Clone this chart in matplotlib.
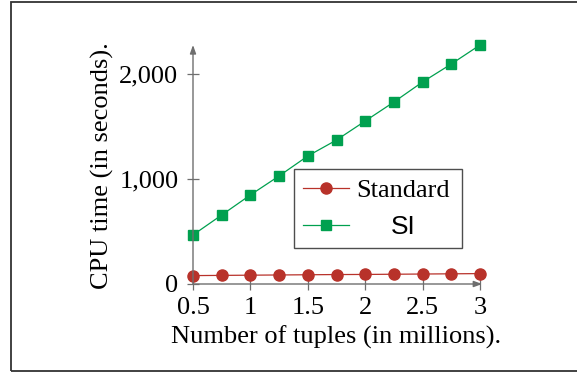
import matplotlib.pyplot as plt
from matplotlib.patches import Rectangle
from matplotlib.ticker import FuncFormatter

# Tuples (millions) and CPU time (s)
tuples = [0.5, 0.75, 1.0, 1.25, 1.5, 1.75, 2.0, 2.25, 2.5, 2.75, 3.0]
standard = [80, 82, 84, 86, 88, 90, 91, 93, 95, 97, 99]
si = [467, 657, 848, 1029, 1219, 1371, 1552, 1733, 1924, 2095, 2276]

xticks = [0.5, 1, 1.5, 2, 2.5, 3]
yticks = [0, 1000, 2000]

red = "#b8322a"
green = "#00a04f"
axis_gray = "#6e6e6e"

plt.rcParams["font.family"] = ["Liberation Serif", "DejaVu Serif"]

fig = plt.figure(figsize=(5.77, 3.74), dpi=100)
ax = fig.add_axes([193 / 577, 1 - 284 / 374, 287 / 577, 239 / 374])

# outer frame (right edge runs off the picture)
fig.patches.append(Rectangle((11 / 577, 1 - 371 / 374), 1.2, (369.5) / 374,
                             transform=fig.transFigure, fill=False,
                             edgecolor="#333333", linewidth=1.3))

ax.plot(tuples, standard, color=red, marker="o", markersize=8, linewidth=0.9,
        label="Standard", clip_on=False, zorder=3)
ax.plot(tuples, si, color=green, marker="s", markersize=7.5, linewidth=0.9,
        label="SI", clip_on=False, zorder=3)

ax.set_xlim(0.5, 3.0)
ax.set_ylim(0, 2276)
ax.set_xticks(xticks)
ax.set_xticklabels(["0.5", "1", "1.5", "2", "2.5", "3"])
ax.set_yticks(yticks)
ax.yaxis.set_major_formatter(FuncFormatter(lambda v, p: f"{int(v):,}"))

for s in ax.spines.values():
    s.set_visible(False)
ax.tick_params(direction="inout", length=9, width=0.9, color=axis_gray,
               labelsize=19)
ax.tick_params(axis="x", pad=5)
ax.tick_params(axis="y", pad=6)

# axis lines with arrow heads
ax.annotate("", xy=(1.008, 0), xytext=(0, 0), xycoords="axes fraction",
            arrowprops=dict(arrowstyle="-|>,head_length=0.5,head_width=0.18",
                            color=axis_gray, lw=1.0, shrinkA=0, shrinkB=0),
            annotation_clip=False)
ax.annotate("", xy=(0, 1.0), xytext=(0, 0), xycoords="axes fraction",
            arrowprops=dict(arrowstyle="-|>,head_length=0.5,head_width=0.18",
                            color=axis_gray, lw=1.0, shrinkA=0, shrinkB=0),
            annotation_clip=False)

ax.set_xlabel("Number of tuples (in millions).", fontsize=19)
ax.set_ylabel("CPU time (in seconds).", fontsize=19)
ax.xaxis.set_label_coords(0.5, -0.175)
ax.yaxis.set_label_coords(-0.275, 0.494)

leg = ax.legend(loc="upper left", bbox_to_anchor=(0.352, 0.159, 0.585, 0.322),
                mode="expand", borderaxespad=0, fontsize=19, frameon=True,
                fancybox=False, edgecolor="#222222", handlelength=1.75,
                borderpad=0.35, labelspacing=0.5, handletextpad=0.27)
leg.get_frame().set_linewidth(1.0)
texts = leg.get_texts()
texts[1].set_fontfamily("Liberation Sans")

# centre the legend entries in their column, as in the original
fig.canvas.draw()
w0 = texts[0].get_window_extent().width
w1 = texts[1].get_window_extent().width
texts[1].set_x((w0 - w1) / 2)

fig.savefig("out.png", dpi=100)
